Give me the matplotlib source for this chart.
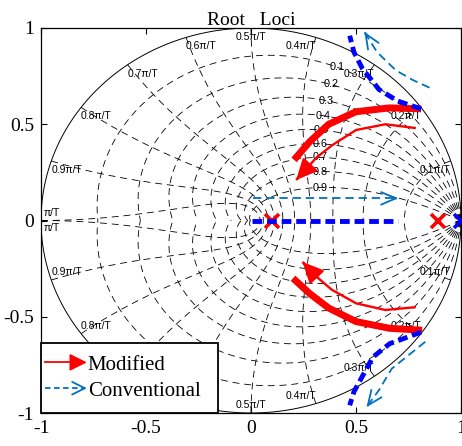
import numpy as np
import matplotlib
matplotlib.use('Agg')
import matplotlib.pyplot as plt
from matplotlib.patches import FancyArrowPatch
from matplotlib.lines import Line2D
from matplotlib.legend_handler import HandlerBase

plt.rcParams['lines.scale_dashes'] = False

# ---------------- data ----------------
mod_thick_up_x = [0.81, 0.66, 0.50, 0.37, 0.28, 0.205]
mod_thick_up_y = [0.58, 0.585, 0.565, 0.50, 0.41, 0.315]
mod_thin_up_x = [0.785, 0.64, 0.50, 0.385, 0.31, 0.215]
mod_thin_up_y = [0.48, 0.50, 0.47, 0.39, 0.325, 0.21]
mod_thick_lo_x = [0.815, 0.66, 0.50, 0.37, 0.28, 0.20]
mod_thick_lo_y = [-0.57, -0.56, -0.525, -0.455, -0.38, -0.30]
mod_thin_lo_x = [0.785, 0.64, 0.50, 0.385, 0.31, 0.245]
mod_thin_lo_y = [-0.45, -0.465, -0.43, -0.36, -0.29, -0.215]

conv_up_x = [0.81, 0.70, 0.61, 0.53, 0.49, 0.47]
conv_up_y = [0.58, 0.62, 0.68, 0.79, 0.875, 0.96]
conv_lo_x = [0.81, 0.66, 0.58, 0.53, 0.49, 0.47]
conv_lo_y = [-0.58, -0.64, -0.71, -0.81, -0.89, -0.96]
conv_real_x = [0.005, 0.70]
conv_real_y = [0.0, 0.0]

conv_arr_real_x = [0.01, 0.70]
conv_arr_real_y = [0.115, 0.115]
conv_arr_up_x = [0.85, 0.77, 0.69, 0.60, 0.54]
conv_arr_up_y = [0.69, 0.73, 0.78, 0.875, 0.98]
conv_arr_lo_x = [0.83, 0.75, 0.67, 0.61, 0.55]
conv_arr_lo_y = [-0.63, -0.70, -0.77, -0.88, -0.97]

mod_poles_x = [0.1, 0.89]
mod_poles_y = [0.0, 0.0]
conv_pole_x = [1.0]
conv_pole_y = [0.0]

zeta_values = [0.1, 0.2, 0.3, 0.4, 0.5, 0.6, 0.7, 0.8, 0.9]
wn_values = [0.1, 0.2, 0.3, 0.4, 0.5, 0.6, 0.7, 0.8, 0.9, 1.0]   # multiples of pi/T
wn_labels = ['0.1π/T', '0.2π/T', '0.3π/T', '0.4π/T', '0.5π/T',
             '0.6π/T', '0.7π/T', '0.8π/T', '0.9π/T', 'π/T']
tick_vals = [-1, -0.5, 0, 0.5, 1]
tick_labels = ['-1', '-0.5', '0', '0.5', '1']

RED = (1, 0, 0)
BLUE = (0, 0, 1)
LBLUE = (0, 0.447, 0.741)
SERIF = 'Liberation Serif'
SANS = 'Liberation Sans'

fig = plt.figure(figsize=(4.62, 4.46), dpi=100)
ax = fig.add_axes([41 / 462, 1 - 413 / 446, 420 / 462, 385 / 446])
ax.set_xlim(-1, 1)
ax.set_ylim(-1, 1)

# ---------------- zgrid ----------------
gdash = (5, 3.5)
th = np.linspace(0, np.pi, 300)
for z in zeta_values:
    r = np.exp(-z * th / np.sqrt(1 - z ** 2))
    for s in (1, -1):
        ax.plot(r * np.cos(th), s * r * np.sin(th), color='k', lw=0.6,
                dashes=gdash, zorder=1)
zz = np.linspace(0, 1, 300)
for w in wn_values:
    wt = w * np.pi
    r = np.exp(-wt * zz)
    a = wt * np.sqrt(1 - zz ** 2)
    for s in (1, -1):
        ax.plot(r * np.cos(a), s * r * np.sin(a), color='k', lw=0.6,
                dashes=gdash, zorder=1)
tt = np.linspace(0, 2 * np.pi, 400)
ax.plot(np.cos(tt), np.sin(tt), color='k', lw=0.7, zorder=1)

# damping labels
wl = 0.35 * np.pi
for z in zeta_values:
    p = np.exp(wl * (-z + 1j * np.sqrt(1 - z ** 2)))
    ax.text(p.real, p.imag, f'{z:.1f}', ha='center', va='center',
            fontsize=7.8, family=SANS, zorder=2)

# frequency labels
for k, (w, lab) in enumerate(zip(wn_values, wn_labels)):
    ang = w * np.pi
    x, y = np.cos(ang), np.sin(ang)
    if w < 0.5:
        ha = 'right'
    elif w == 0.5:
        ha = 'center'
    else:
        ha = 'left'
    if w == 1.0:
        ax.text(-0.985, 0.012, lab, ha='left', va='bottom', fontsize=7.5, family=SANS)
        ax.text(-0.985, -0.015, lab, ha='left', va='top', fontsize=7.5, family=SANS)
    else:
        ax.text(x, y - 0.02, lab, ha=ha, va='top', fontsize=7.5, family=SANS)
        ax.text(x, -y + 0.015, lab, ha=ha, va='bottom', fontsize=7.5, family=SANS)


# ---------------- loci ----------------
def thin_arrow(xs, ys, color, lw, dashes=None, style='-|>', ms=15, z=4):
    if dashes is None:
        ax.plot(xs, ys, color=color, lw=lw, zorder=z, solid_capstyle='butt')
    else:
        ax.plot(xs, ys, color=color, lw=lw, dashes=dashes, zorder=z)
    x1, y1, x0, y0 = xs[-1], ys[-1], xs[-2], ys[-2]
    d = np.hypot(x1 - x0, y1 - y0)
    f = 0.015 / d
    start = (x1 - (x1 - x0) * f, y1 - (y1 - y0) * f)
    arr = FancyArrowPatch(start, (x1, y1), arrowstyle=style, mutation_scale=ms,
                          color=color, lw=lw, shrinkA=0, shrinkB=0, zorder=z)
    ax.add_patch(arr)


ax.plot(mod_thick_up_x, mod_thick_up_y, color=RED, lw=5, zorder=3, solid_capstyle='butt')
ax.plot(mod_thick_lo_x, mod_thick_lo_y, color=RED, lw=5, zorder=3, solid_capstyle='butt')
thin_arrow(mod_thin_up_x, mod_thin_up_y, RED, 1.7, style='-|>,head_length=0.85,head_width=0.4')
thin_arrow(mod_thin_lo_x, mod_thin_lo_y, RED, 1.7, style='-|>,head_length=0.85,head_width=0.4')

for xs, ys in [(conv_arr_real_x, conv_arr_real_y), (conv_arr_up_x, conv_arr_up_y),
               (conv_arr_lo_x, conv_arr_lo_y)]:
    thin_arrow(xs, ys, LBLUE, 1.3, dashes=(6, 3.5),
               style='->,head_length=0.7,head_width=0.3', ms=15, z=4)

ax.plot(mod_poles_x, mod_poles_y, 'x', color=RED, ms=10, mew=2.6, zorder=5)
for xs, ys in [(conv_real_x, conv_real_y), (conv_up_x, conv_up_y), (conv_lo_x, conv_lo_y)]:
    ax.plot(xs, ys, color=BLUE, lw=3.5, dashes=(7, 3.5), zorder=6)
ax.plot(conv_pole_x, conv_pole_y, 'x', color=BLUE, ms=10, mew=2.6, zorder=6,
        clip_on=False)

# ---------------- axes style ----------------
ax.set_xticks(tick_vals)
ax.set_xticklabels(tick_labels, family=SERIF, fontsize=14)
ax.set_yticks(tick_vals)
ax.set_yticklabels(tick_labels, family=SERIF, fontsize=14)
ax.tick_params(direction='in', top=True, right=True, length=4, width=0.8, pad=5)
for sp in ax.spines.values():
    sp.set_linewidth(0.9)
ax.set_title('Root   Loci', family=SERIF, fontsize=14, pad=2)


# ---------------- legend ----------------
class HandlerArrow(HandlerBase):
    def __init__(self, color, lw, dashes, style, ms):
        super().__init__()
        self.c, self.lw, self.d, self.st, self.ms = color, lw, dashes, style, ms

    def create_artists(self, legend, orig_handle, xdescent, ydescent, width,
                       height, fontsize, trans):
        x0 = -xdescent - 6
        x1 = -xdescent + width
        y = -ydescent + height / 2
        kw = dict(color=self.c, lw=self.lw, transform=trans)
        if self.d is not None:
            ln = Line2D([x0, x1 - 2], [y, y], dashes=self.d, **kw)
        else:
            ln = Line2D([x0, x1 - 8], [y, y], **kw)
        head = FancyArrowPatch((x1 - 3, y), (x1, y), arrowstyle=self.st,
                               mutation_scale=self.ms, color=self.c, lw=self.lw,
                               shrinkA=0, shrinkB=0, transform=trans)
        return [ln, head]


h1 = Line2D([], [], color=RED)
h2 = Line2D([], [], color=LBLUE)
leg = ax.legend([h1, h2], ['Modified', 'Conventional'],
                handler_map={h1: HandlerArrow(RED, 1.3, None, '-|>,head_length=0.8,head_width=0.4', 13),
                             h2: HandlerArrow(LBLUE, 1.3, (4, 2.5), '->,head_length=0.7,head_width=0.35', 13)},
                loc='lower left', bbox_to_anchor=(0, 0, 177 / 420, 0.2), mode='expand',
                borderaxespad=0, fancybox=False, edgecolor='k', framealpha=1,
                prop={'family': SERIF, 'size': 15}, handlelength=1.6,
                handletextpad=0.05, borderpad=0.6, labelspacing=0.3)
leg.get_frame().set_linewidth(1.3)
leg.set_zorder(10)

fig.savefig('out.png', dpi=100)
